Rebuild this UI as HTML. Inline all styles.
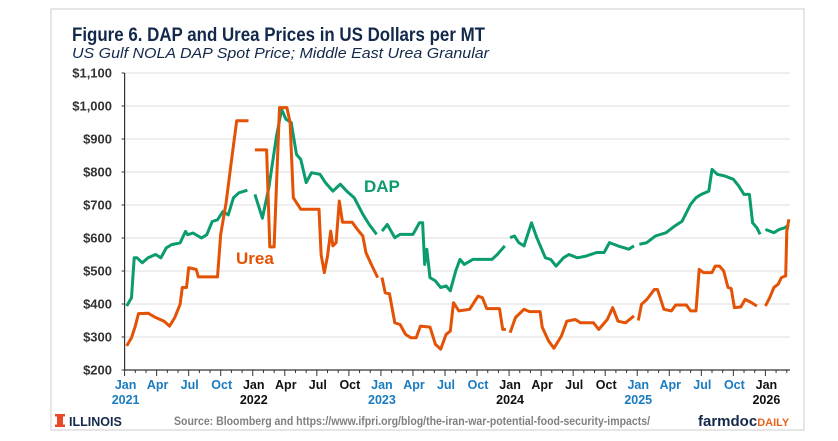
<!DOCTYPE html>
<html><head><meta charset="utf-8">
<style>
html,body{margin:0;padding:0;background:#fff;}
svg{display:block;font-family:"Liberation Sans",sans-serif;}
</style></head>
<body>
<svg id="chart" width="838" height="441" viewBox="0 0 838 441">
<rect x="51" y="9" width="753" height="421" fill="#fff" stroke="#d6d6d6" stroke-width="1.2"/>
<text x="72" y="41" font-size="19" font-weight="bold" fill="#13294b" textLength="413" lengthAdjust="spacingAndGlyphs">Figure 6. DAP and Urea Prices in US Dollars per MT</text>
<text x="72" y="58" font-size="14.5" font-style="italic" fill="#13294b" textLength="417" lengthAdjust="spacingAndGlyphs">US Gulf NOLA DAP Spot Price; Middle East Urea Granular</text>
<g id="grid"></g>
<g id="axes"></g>
<g id="series"></g>
<text x="364" y="192" font-size="17" font-weight="bold" fill="#0a9b6e">DAP</text>
<text x="236" y="264" font-size="17" font-weight="bold" fill="#e35205">Urea</text>
<g>
<rect x="57" y="414" width="6" height="13" fill="#e84a27"/>
<rect x="55" y="414" width="10" height="2.5" fill="#e84a27"/>
<rect x="55" y="424.5" width="10" height="2.5" fill="#e84a27"/>
<text x="69" y="426" font-size="12.5" font-weight="bold" fill="#13294b">ILLINOIS</text>
</g>
<text x="174" y="425" font-size="11.5" font-weight="bold" fill="#808080" textLength="476" lengthAdjust="spacingAndGlyphs">Source: Bloomberg and https://www.ifpri.org/blog/the-iran-war-potential-food-security-impacts/</text>
<text x="698" y="426" font-size="15" font-weight="bold" fill="#13294b">farmdoc<tspan fill="#e8641c" font-size="11">DAILY</tspan></text>
</svg>
<script>
// chart data (month index from Jan 2021, price)
const dapMonths=[0.2,0.65,0.9,1.16,1.66,2.2,2.9,3.4,3.9,4.4,5.2,5.7,5.9,6.4,7.2,7.7,8.2,8.7,9.2,9.7,10.2,10.7,11.5,null,12.2,12.9,13.5,14.2,14.7,15.1,15.6,16.1,16.5,17.0,17.5,18.3,18.8,19.5,20.2,20.8,21.5,22.3,22.9,23.6,null,24.1,24.6,25.3,25.8,27.0,27.6,27.9,28.1,28.3,28.6,29.1,29.6,30.1,30.5,31.0,31.4,31.8,32.6,33.6,34.4,34.9,35.6,null,36.1,36.5,36.9,37.4,38.1,38.6,39.4,39.9,40.4,41.1,41.6,42.4,43.2,44.2,44.9,45.4,46.2,47.2,47.7,null,48.2,48.9,49.7,50.7,51.5,52.2,53.0,53.5,54.0,54.7,55.0,55.5,56.2,57.0,57.5,58.0,58.5,58.8,59.2,59.5,null,60.0,60.8,61.3,61.8,62.2];
const dapPrices=[394,419,540,540,525,540,550,540,570,580,585,620,610,615,600,610,650,655,680,670,722,737,745,null,732,660,752,905,990,960,950,853,838,768,798,793,768,742,763,742,722,672,641,611,null,621,641,601,611,611,646,646,520,566,480,470,450,455,440,500,535,520,535,535,535,550,576,null,601,606,586,576,646,601,540,535,515,540,550,540,545,556,556,586,576,566,576,null,581,586,606,616,636,651,702,722,732,742,808,793,788,778,758,732,732,646,631,611,null,626,616,626,631,640];
const ureaMonths=[0.2,0.65,1.0,1.3,2.2,2.9,3.7,4.2,4.7,5.2,5.4,5.8,6.0,6.7,6.9,8.7,9.0,9.5,10.0,10.5,11.6,null,12.2,13.3,13.6,14.0,14.5,15.2,15.5,15.8,16.5,18.2,18.4,18.7,19.0,19.3,19.5,19.8,20.1,20.4,21.3,21.8,22.3,22.6,23.1,23.4,23.7,null,24.1,24.4,24.8,25.3,25.8,26.3,26.8,27.3,27.7,28.6,29.1,29.6,30.1,30.5,30.8,31.3,32.3,33.1,33.5,33.9,35.1,35.4,35.7,null,36.1,36.6,37.4,37.9,38.9,39.1,39.7,40.2,40.9,41.4,42.2,42.7,43.9,44.4,45.2,45.7,46.2,46.9,47.7,null,48.1,48.4,48.9,49.6,49.9,50.5,51.2,51.6,52.6,53.0,53.5,53.8,54.2,55.0,55.3,55.7,56.1,56.5,56.8,57.1,57.7,58.1,58.6,59.2,null,60.0,60.4,60.8,61.2,61.5,61.9,62.0,62.2];
const ureaPrices=[273,298,333,371,372,359,348,333,359,399,450,450,510,505,482,482,611,707,833,955,955,null,867,867,573,573,995,995,950,722,687,687,550,495,545,621,576,586,712,648,648,626,606,555,520,500,480,null,480,434,431,343,338,308,298,298,333,330,278,263,308,318,404,379,384,424,419,386,386,323,323,null,313,359,384,377,377,330,288,266,303,348,353,343,343,323,353,389,348,343,364,null,350,399,414,444,444,384,379,397,397,379,379,505,495,495,515,515,500,450,447,389,391,414,406,394,null,394,419,450,460,480,485,621,657];
const yTicks=[200,300,400,500,600,700,800,900,1000,1100];
const yTickLabels=["$200","$300","$400","$500","$600","$700","$800","$900","$1,000","$1,100"];
const monthLabels=["Jan","Apr","Jul","Oct"];
const yearLabels=["2021","2022","2023","2024","2025","2026"];

const NS="http://www.w3.org/2000/svg";
const X0=124.6, PX=10.68, Y0=370, PY=0.33;
function xs(m){return X0+m*PX;}
function ys(v){return Y0-(v-200)*PY;}
function mk(tag,attrs,parent){const e=document.createElementNS(NS,tag);for(const k in attrs)e.setAttribute(k,attrs[k]);parent.appendChild(e);return e;}
const grid=document.getElementById('grid'),axes=document.getElementById('axes'),series=document.getElementById('series');
yTicks.forEach((v,i)=>{
  if(v>200){const g=mk('line',{x1:xs(0),x2:790,y1:ys(v),y2:ys(v),stroke:'#e3e3e3','stroke-width':1.3},grid);
  
  }
  mk('line',{x1:xs(0)-3,x2:xs(0),y1:ys(v),y2:ys(v),stroke:'#333','stroke-width':1},axes);
  const t=mk('text',{x:112,y:ys(v)+4.5,'text-anchor':'end','font-size':13,'font-weight':'bold',fill:'#333'},axes);
  t.textContent=yTickLabels[i];
  
  
});
mk('line',{x1:xs(0),x2:xs(0),y1:ys(1100),y2:ys(200),stroke:'#333','stroke-width':1.2},axes);
mk('line',{x1:xs(0),x2:790,y1:ys(200),y2:ys(200),stroke:'#333','stroke-width':1.2},axes);
for(let m=0;m<=62;m++){
  const major=m%3===0;
  mk('line',{x1:xs(m),x2:xs(m),y1:ys(200),y2:ys(200)+(major?6:3),stroke:'#333','stroke-width':1},axes);
  if(major){
    const yr=Math.floor(m/12);
    const col=(yr%2===0)?'#1a7bbf':'#111';
    const t=mk('text',{x:xs(m)+1,y:389,'text-anchor':'middle','font-size':12.5,'font-weight':'bold',fill:col},axes);
    t.textContent=monthLabels[(m%12)/3];
    
    
    if(m%12===0){
      const y2=mk('text',{x:xs(m)+1,y:404,'text-anchor':'middle','font-size':12.5,'font-weight':'bold',fill:col},axes);
      y2.textContent=yearLabels[yr];
      
      
    }
  }
}
function drawSeries(ms,vs,color,name){
  let d='',start=true;
  for(let i=0;i<ms.length;i++){
    if(ms[i]===null||vs[i]===null){start=true;continue;}
    d+=(start?'M':'L')+xs(ms[i]).toFixed(1)+','+ys(vs[i]).toFixed(1);start=false;
  }
  const p=mk('path',{d:d,fill:'none',stroke:color,'stroke-width':3,'stroke-linejoin':'round','stroke-linecap':'butt'},series);
  
  
}
drawSeries(dapMonths,dapPrices,'#0a9b6e','dap-line');
drawSeries(ureaMonths,ureaPrices,'#e35205','urea-line');
</script>
</body></html>
